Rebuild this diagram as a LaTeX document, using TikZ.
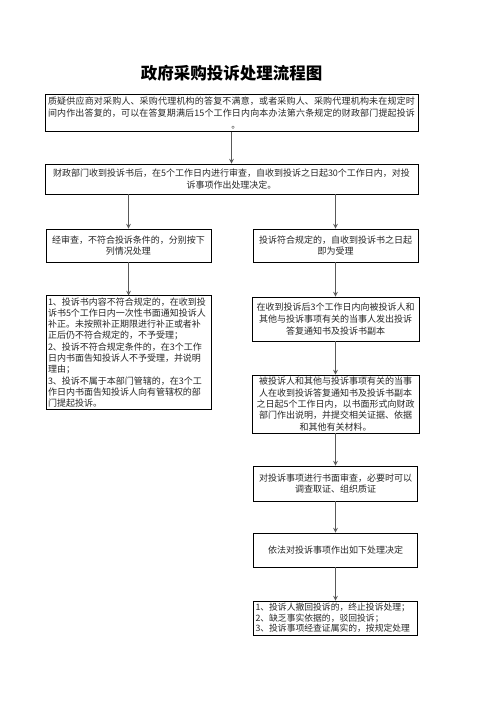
\documentclass[tikz,border=0pt]{standalone}
\usepackage{fontspec}
\setmainfont{Noto Sans CJK SC}
\usepackage{tikz}
\usetikzlibrary{positioning}
\XeTeXlinebreaklocale "zh"
\XeTeXlinebreakskip=0pt plus 1pt

\begin{document}
\begin{tikzpicture}[x=1pt, y=-1pt,
                    flowbox/.style={draw=black, line width=0.9pt, inner sep=2pt,
                                    align=center, text=black!85,
                                    font=\fontsize{9}{11.3}\selectfont},
                    arr/.style={->, >=stealth, line width=1.1pt, color=black!65}
                ]
                    \useasboundingbox (0,0) rectangle (496,702);
                    \node[font=\bfseries\fontsize{16.5}{18}\selectfont] (title) at (231.5,73) {政府采购投诉处理流程图};
                    \node[flowbox, minimum width=373pt, minimum height=36pt, text width=367pt,
                          align=justify, font=\fontsize{9}{12.3}\selectfont] (s1) at (231.5,113)
                          {质疑供应商对采购人、采购代理机构的答复不满意，或者采购人、采购代理机构未在规定时\linebreak
                           间内作出答复的，可以在答复期满后15个工作日内向本办法第六条规定的财政部门提起投诉\linebreak
                           \hspace*{\fill}\hspace*{1em}。\hspace*{\fill}};
                    \node[flowbox, minimum width=373pt, minimum height=30pt] (s2) at (231.5,179)
                          {财政部门收到投诉书后，在5个工作日内进行审查，自收到投诉之日起30个工作日内，对投\\诉事项作出处理决定。};
                    \node[flowbox, minimum width=165pt, minimum height=33pt] (n1) at (128.5,245.5)
                          {经审查，不符合投诉条件的，分别按下\\列情况处理};
                    \node[flowbox, minimum width=165pt, minimum height=113pt, text width=161pt,
                          align=left, inner sep=1.5pt] (n2) at (128.5,352.5)
                          {1、投诉书内容不符合规定的，在收到投\\诉书5个工作日内一次性书面通知投诉人\\补正。未按照补正期限进行补正或者补\\正后仍不符合规定的，不予受理；\\2、投诉不符合规定条件的，在3个工作\\日内书面告知投诉人不予受理，并说明\\理由；\\3、投诉不属于本部门管辖的，在3个工\\作日内书面告知投诉人向有管辖权的部\\门提起投诉。};
                    \node[flowbox, minimum width=165pt, minimum height=33pt] (y1) at (335.5,245.5)
                          {投诉符合规定的，自收到投诉书之日起\\即为受理};
                    \node[flowbox, minimum width=167pt, minimum height=44pt,
                          font=\fontsize{9}{11.7}\selectfont] (y2) at (335.5,319)
                          {在收到投诉后3个工作日内向被投诉人和\\其他与投诉事项有关的当事人发出投诉\\答复通知书及投诉书副本};
                    \node[flowbox, minimum width=167pt, minimum height=58pt] (y3) at (335.5,404)
                          {被投诉人和其他与投诉事项有关的当事\\人在收到投诉答复通知书及投诉书副本\\之日起5个工作日内，以书面形式向财政\\部门作出说明，并提交相关证据、依据\\和其他有关材料。};
                    \node[flowbox, minimum width=164pt, minimum height=35pt] (y4) at (335.5,483.5)
                          {对投诉事项进行书面审查，必要时可以\\调查取证、组织质证};
                    \node[flowbox, minimum width=164pt, minimum height=34pt] (y5) at (335.5,550)
                          {依法对投诉事项作出如下处理决定};
                    \node[flowbox, minimum width=164pt, minimum height=34pt, text width=160pt,
                          align=left, inner sep=1.5pt, font=\fontsize{8.8}{10.5}\selectfont] (y6) at (335.5,618)
                          {1、投诉人撤回投诉的，终止投诉处理；\\2、缺乏事实依据的，驳回投诉；\\3、投诉事项经查证属实的，按规定处理};
                    \draw[arr] (s1) -- (s2);
                    \draw[arr] (n1.north |- s2.south) -- (n1);
                    \draw[arr] (y1.north |- s2.south) -- (y1);
                    \draw[arr] (n1) -- (n2);
                    \draw[arr] (y1) -- (y2);
                    \draw[arr] (y2) -- (y3);
                    \draw[arr] (y3) -- (y4);
                    \draw[arr] (y4) -- (y5);
                    \draw[arr] (y5) -- (y6);
                \end{tikzpicture}
\end{document}
